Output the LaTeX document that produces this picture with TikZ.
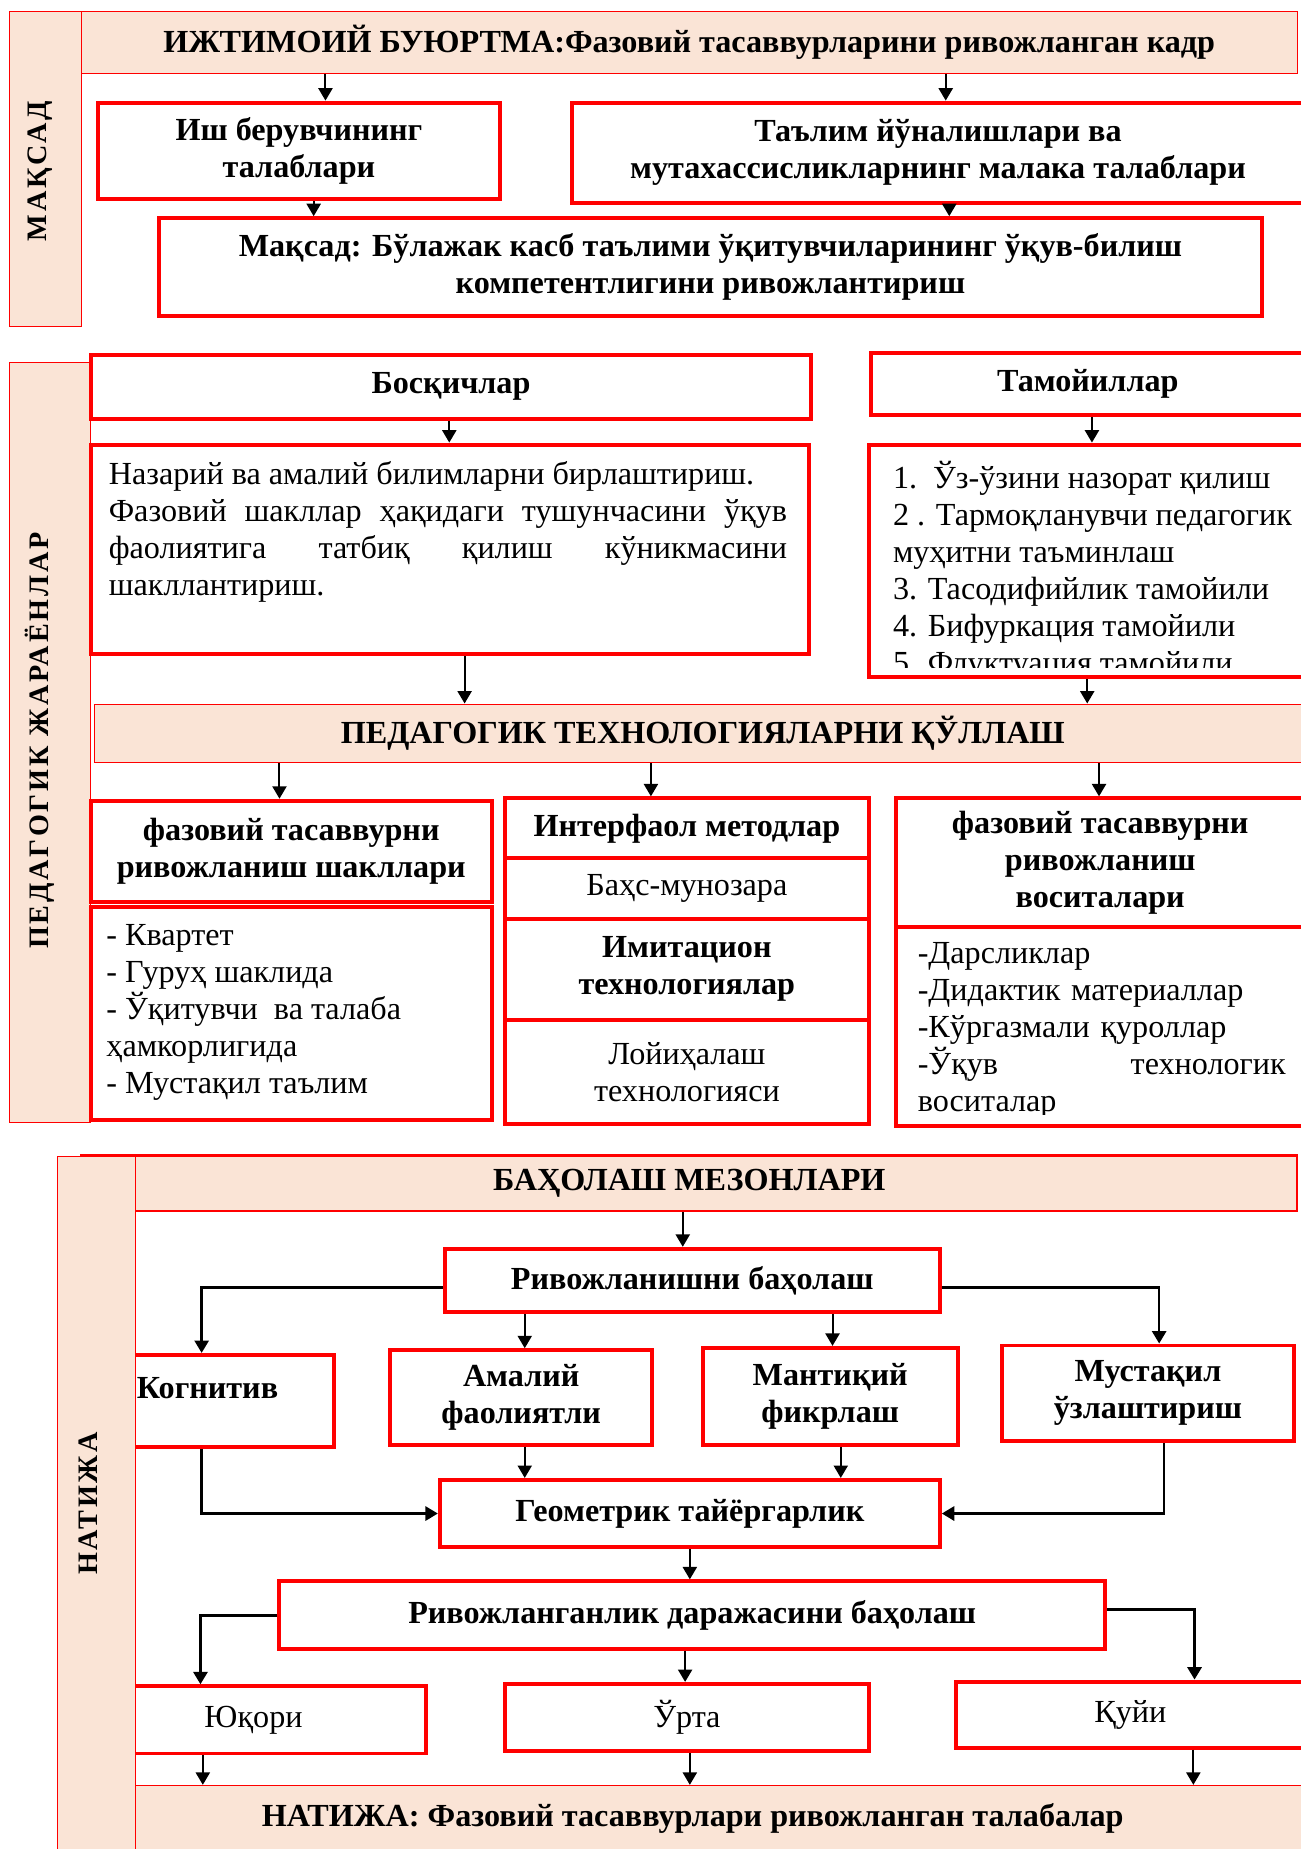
\documentclass[tikz,border=0pt]{standalone}
\usepackage{fontspec}
\setmainfont{Liberation Serif}
\newfontfamily\spacedfont[LetterSpace=10]{Liberation Serif}
\usepackage{tikz}
\usetikzlibrary{arrows.meta, fit, positioning}

\definecolor{peach}{RGB}{250,228,214}
\newcommand{\bodysize}{\fontsize{19.4}{22.3}\selectfont}

\begin{document}
\begin{tikzpicture}[x=0.025cm, y=-0.025cm,
    band/.style={draw=red, line width=0.6pt, fill=peach, inner sep=0pt},
    redbox/.style={draw=red, line width=2.4pt, inner sep=0pt},
    boldtext/.style={inner sep=0pt, align=center, font=\bodysize\bfseries},
    plaintext/.style={boldtext, font=\bodysize},
    bandlabel/.style={rotate=90, inner sep=0pt, font=\fontsize{17}{20}\spacedfont\bfseries},
    listtext/.style={anchor=north west, inner sep=0pt, align=left, font=\bodysize},
    arr/.style={-{Triangle[length=7.5pt, width=8.5pt]}, line width=1.2pt},
    elbow/.style={arr, line width=1.6pt}]
\useasboundingbox (0,0) rectangle (1103,1568);

\node[band, fit={(8,10)(69,277)}] (goalband) {};
\node[bandlabel] (goallabel) at (34,145) {МАҚСАД};
\node[band, fit={(69,10)(1100,62)},
    label={[boldtext]center:{ИЖТИМОИЙ БУЮРТМА:Фазовий тасаввурларини ривожланган кадр}}] (order) {};
\node[redbox, fit={(83,87)(424,169)},
    label={[boldtext]center:{Иш берувчининг\\талаблари}}] (employer) {};
\node[redbox, fit={(485,87)(1106,172)},
    label={[boldtext]center:{Таълим йўналишлари ва\\мутахассисликларнинг малака талаблари}}] (standards) {};
\node[redbox, fit={(135,185)(1070,268)},
    label={[boldtext]center:{Мақсад: Бўлажак касб таълими ўқитувчиларининг ўқув-билиш\\компетентлигини ривожлантириш}}] (goal) {};

\draw[arr] (order.south -| 276,0) -- (employer.north -| 276,0);
\draw[arr] (order.south -| 802,0) -- (standards.north -| 802,0);
\draw[arr] (employer.south -| 266,0) -- (goal.north -| 266,0);
\draw[arr] (standards.south -| 805,0) -- (goal.north -| 805,0);

\node[band, fit={(8,307)(77,952)}] (procband) {};
\node[bandlabel] (proclabel) at (34,628) {ПЕДАГОГИК ЖАРАЁНЛАР};
\node[redbox, fit={(77,301)(688,355)}, label={[boldtext]center:Босқичлар}] (stages) {};
\node[redbox, fit={(739,299)(1106,352)}, label={[boldtext]center:Тамойиллар}] (principles) {};
\node[redbox, fit={(77,377)(686,555)}] (stagebox) {};
\node[listtext, text width=14.375cm, align=justify] (stagetext) at (92,391)
    {Назарий ва амалий билимларни бирлаштириш.\par
     Фазовий шакллар ҳақидаги тушунчасини ўқув\linebreak
     фаолиятига татбиқ қилиш кўникмасини\linebreak
     шакллантириш.};
\node[redbox, fit={(737,377)(1106,574)}] (princbox) {};
\begin{scope}
\clip (737,377) rectangle (1103,566);
\node[listtext] (princtext) at (757,391)
    {1.\ \ Ўз-ўзини назорат қилиш\\2 . Тармоқланувчи педагогик\\муҳитни таъминлаш\\3. Тасодифийлик тамойили\\4. Бифуркация тамойили\\5. Флуктуация тамойили};
\end{scope}
\node[band, fit={(80,597)(1112,647)},
    label={[boldtext]center:{ПЕДАГОГИК ТЕХНОЛОГИЯЛАРНИ ҚЎЛЛАШ}}] (pedtech) {};

\draw[arr] (stages.south -| 381,0) -- (stagebox.north -| 381,0);
\draw[arr] (principles.south -| 926,0) -- (princbox.north -| 926,0);
\draw[arr] (stagebox.south -| 394,0) -- (pedtech.north -| 394,0);
\draw[arr] (princbox.south -| 922,0) -- (pedtech.north -| 922,0);

\node[redbox, fit={(77,679)(417,765)},
    label={[boldtext]center:{фазовий тасаввурни\\ривожланиш шакллари}}] (forms) {};
\node[redbox, fit={(77,769)(417,950)}] (formbox) {};
\node[listtext] (formtext) at (90,784)
    {- Квартет\\- Гуруҳ шаклида\\- Ўқитувчи\ \ ва талаба\\ҳамкорлигида\\- Мустақил таълим};
\node[redbox, fit={(428,677)(737,728)}, label={[boldtext]center:{Интерфаол методлар}}] (interactive) {};
\node[redbox, fit={(428,728)(737,779)}, label={[plaintext]center:{Баҳс-мунозара}}] (debate) {};
\node[redbox, fit={(428,779)(737,865)}, label={[boldtext]center:{Имитацион\\технологиялар}}] (imitation) {};
\node[redbox, fit={(428,865)(737,953)}, label={[plaintext]center:{Лойиҳалаш\\технологияси}}] (design) {};
\node[redbox, fit={(760,677)(1106,786)},
    label={[boldtext]center:{фазовий тасаввурни\\ривожланиш\\воситалари}}] (means) {};
\node[redbox, fit={(760,786)(1106,955)}] (meanbox) {};
\begin{scope}
\clip (760,786) rectangle (1103,945);
\node[listtext, text width=7.8cm] (meantext) at (778,799)
    {-Дарсликлар\\-Дидактик материаллар\\-Кўргазмали қуроллар\\-Ўқув\hfill технологик\\воситалар};
\end{scope}

\draw[arr] (pedtech.south -| 237,0) -- (forms.north -| 237,0);
\draw[arr] (pedtech.south -| 552,0) -- (interactive.north -| 552,0);
\draw[arr] (pedtech.south -| 932,0) -- (means.north -| 932,0);

\node[band, line width=1.6pt, fit={(69,980)(1100,1027)},
    label={[boldtext]center:{БАҲОЛАШ МЕЗОНЛАРИ}}] (criteria) {};
\node[redbox, fit={(377,1059)(797,1113)}, label={[boldtext]center:{Ривожланишни баҳолаш}}] (development) {};
\node[redbox, fit={(69,1149)(283,1227)}] (cognitive) {};
\node[redbox, fit={(331,1145)(553,1225)}, label={[boldtext]center:{Амалий\\фаолиятли}}] (practical) {};
\node[redbox, fit={(596,1143)(812,1225)}, label={[boldtext]center:{Мантиқий\\фикрлаш}}] (logical) {};
\node[redbox, fit={(850,1141)(1097,1222)}, label={[boldtext]center:{Мустақил\\ўзлаштириш}}] (independent) {};
\node[redbox, fit={(373,1255)(797,1312)}, label={[boldtext]center:{Геометрик тайёргарлик}}] (geometric) {};
\node[redbox, fit={(237,1341)(937,1398)},
    label={[boldtext]center:{Ривожланганлик даражасини баҳолаш}}] (level) {};
\node[redbox, fit={(69,1430)(361,1487)}, label={[plaintext]center:Юқори}] (high) {};
\node[redbox, fit={(428,1428)(737,1485)}, label={[plaintext]center:Ўрта}] (middle) {};
\node[redbox, fit={(811,1426)(1106,1482)}, label={[plaintext]center:Қуйи}] (low) {};
\node[band, fit={(69,1514)(1106,1570)},
    label={[boldtext]center:{НАТИЖА: Фазовий тасаввурлари ривожланган талабалар}}] (result) {};
\node[band, fit={(49,981)(115,1572)}] (resband) {};
\node[bandlabel] (reslabel) at (75,1275) {НАТИЖА};
\node[boldtext] (cogtext) at (176,1177) {Когнитив};

\draw[arr] (criteria.south -| 579,0) -- (development.north -| 579,0);
\draw[elbow] (development.west |- 0,1092) -| (cognitive.north -| 171,0);
\draw[elbow] (development.east |- 0,1092) -| (independent.north -| 983,0);
\draw[arr] (development.south -| 445,0) -- (practical.north -| 445,0);
\draw[arr] (development.south -| 706,0) -- (logical.north -| 706,0);
\draw[elbow] (cognitive.south -| 171,0) |- (geometric.west);
\draw[elbow] (independent.south -| 987,0) |- (geometric.east);
\draw[arr] (practical.south -| 445,0) -- (geometric.north -| 445,0);
\draw[arr] (logical.south -| 713,0) -- (geometric.north -| 713,0);
\draw[arr] (geometric.south -| 585,0) -- (level.north -| 585,0);
\draw[elbow] (level.west |- 0,1370) -| (high.north -| 170,0);
\draw[elbow] (level.east |- 0,1365) -| (low.north -| 1013,0);
\draw[arr] (level.south -| 581,0) -- (middle.north -| 581,0);
\draw[arr] (high.south -| 172,0) -- (result.north -| 172,0);
\draw[arr] (middle.south -| 585,0) -- (result.north -| 585,0);
\draw[arr] (low.south -| 1012,0) -- (result.north -| 1012,0);
\end{tikzpicture}
\end{document}
